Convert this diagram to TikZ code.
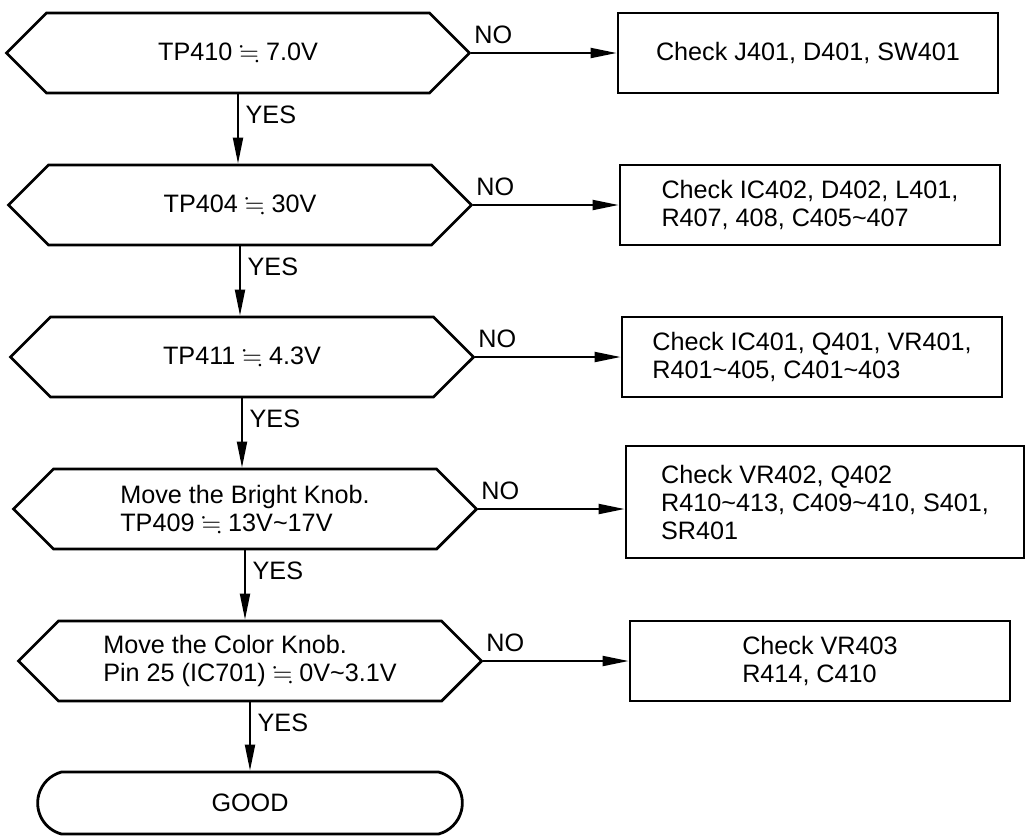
\documentclass[tikz,border=0pt]{standalone}
\usepackage{fontspec}
\setmainfont{Liberation Sans}
\usepackage{amssymb}
\usetikzlibrary{shapes.symbols}
\usetikzlibrary{shapes.misc}
\usetikzlibrary{arrows.meta}
\newcommand{\appr}{$\fallingdotseq$}
\newcommand{\rng}{\textasciitilde}

\begin{document}
\begin{tikzpicture}[x=0.5pt, y=-0.5pt, node distance=76pt, font=\fontsize{12.6}{14}\selectfont,
    test/.style = {draw, line width=1.4pt, signal, signal to=west and east, signal pointer angle=90, minimum width=231.5pt, minimum height=40pt, align=left},
    check/.style = {draw, line width=1.4pt, rectangle, minimum width=190pt, minimum height=40pt, align=left},
    go/.style = {line width=1pt, -{Triangle[length=13pt, width=5pt]}}]
    \useasboundingbox (0,0) rectangle (1026,836);
    \node[test] (1) at (238,53) {TP410 \appr{} 7.0V};
    \node[test] (2) [below of = 1, xshift=1pt] {TP404 \appr{} 30V};
    \node[test] (3) [below of = 2, xshift=1pt] {TP411 \appr{} 4.3V};
    \node[test] (4) [below of = 3, xshift=1.5pt] {Move the Bright Knob.\\TP409 \appr{} 13V\rng17V};
    \node[test] (5) [below of = 4, xshift=2.5pt] {Move the Color Knob.\\Pin 25 (IC701) \appr{} 0V\rng3.1V};
    \node[draw, line width=1.4pt, rounded rectangle, rounded rectangle arc length=150, minimum width=219pt, minimum height=31pt] (6) [below of = 5, node distance=71pt] {GOOD};
    \node[check] (7) [right of = 1, node distance=285pt] {Check J401, D401, SW401};
    \node[check] (8) [right of = 2, node distance=285pt] {Check IC402, D402, L401,\\R407, 408, C405\rng407};
    \node[check] (9) [right of = 3, node distance=285pt] {Check IC401, Q401, VR401,\\R401\rng405, C401\rng403};
    \node[check, minimum width=199pt, minimum height=56pt] (10) [right of = 4, node distance=285pt, xshift=5pt, yshift=3.5pt] {Check VR402, Q402\\R410\rng413, C409\rng410, S401,\\SR401};
    \node[check] (11) [right of = 5, node distance=285pt] {Check VR403\\R414, C410};
    \draw[go] (1.south) -- node[pos=0.3, right] {YES} (1.south |- 2.north);
    \draw[go] (2.south) -- node[pos=0.3, right] {YES} (2.south |- 3.north);
    \draw[go] (3.south) -- node[pos=0.3, right] {YES} (3.south |- 4.north);
    \draw[go] (4.south) -- node[pos=0.3, right] {YES} (4.south |- 5.north);
    \draw[go] (5.south) -- node[pos=0.3, right] {YES} (5.south |- 6.north);
    \draw[go] (1.east) -- node[pos=0, above right, yshift=3pt, inner sep=1pt] {NO} (1.east -| 7.west);
    \draw[go] (2.east) -- node[pos=0, above right, yshift=3pt, inner sep=1pt] {NO} (2.east -| 8.west);
    \draw[go] (3.east) -- node[pos=0, above right, yshift=3pt, inner sep=1pt] {NO} (3.east -| 9.west);
    \draw[go] (4.east) -- node[pos=0, above right, yshift=3pt, inner sep=1pt] {NO} (4.east -| 10.west);
    \draw[go] (5.east) -- node[pos=0, above right, yshift=3pt, inner sep=1pt] {NO} (5.east -| 11.west);
\end{tikzpicture}
\end{document}
